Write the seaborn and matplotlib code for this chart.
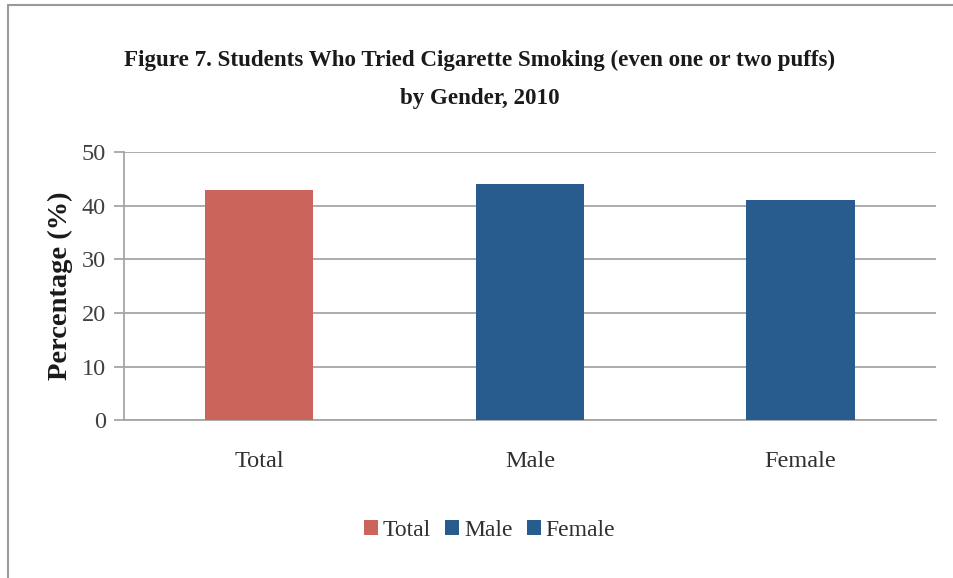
import matplotlib
matplotlib.use("Agg")
import matplotlib.pyplot as plt
from matplotlib.lines import Line2D
import seaborn as sns
import pandas as pd

categories = ["Total", "Male", "Female"]
values = [43, 44, 41]
colors = ["#CB645B", "#285C8E", "#285C8E"]
y_ticks = [0, 10, 20, 30, 40, 50]

title = "Figure 7. Students Who Tried Cigarette Smoking (even one or two puffs)\nby Gender, 2010"
y_label = "Percentage (%)"

sns.set_theme(style="white")
plt.rcParams["font.family"] = ["Liberation Serif", "DejaVu Serif"]

df = pd.DataFrame({"Group": categories, "Percent": values})

fig = plt.figure(figsize=(9.54, 5.78), dpi=100)
ax = fig.add_axes([0.130, 0.273, 0.851, 0.464])

sns.barplot(data=df, x="Group", y="Percent", hue="Group",
            palette=dict(zip(categories, colors)), order=categories,
            hue_order=categories, width=0.4, saturation=1,
            linewidth=0, legend=True, ax=ax, zorder=3)

ax.set_ylim(0, 50)
ax.set_xlim(-0.5, 2.5)
ax.set_yticks(y_ticks)
ax.set_yticklabels([str(t) for t in y_ticks], fontsize=17.5, color="#404040")
ax.tick_params(axis="x", labelsize=17.5, labelcolor="#303030", length=0, pad=22)
ax.tick_params(axis="y", length=7, width=1.3, color="#A6A6A6", pad=6, left=True)
ax.set_xlabel("")
ax.set_ylabel(y_label, fontsize=20.5, fontweight="bold", color="#1a1a1a", labelpad=6)

ax.yaxis.grid(True, color="#A6A6A6", linewidth=1.3, zorder=0)
ax.set_axisbelow(True)
for side in ["top", "right"]:
    ax.spines[side].set_visible(False)
for side in ["left", "bottom"]:
    ax.spines[side].set_color("#A6A6A6")
    ax.spines[side].set_linewidth(1.3)

fig.text(0.503, 0.862, title, ha="center", va="center", fontsize=16.6,
         fontweight="bold", color="#1a1a1a", linespacing=2.05)

handles, labels = ax.get_legend_handles_labels()
ax.legend(handles, labels, loc="center", bbox_to_anchor=(0.513, 0.083),
          bbox_transform=fig.transFigure, ncol=3, frameon=False,
          fontsize=17, handlelength=0.6, handleheight=0.6,
          handletextpad=0.2, columnspacing=0.6, labelcolor="#303030")

# thin frame lines along the top and left edges of the figure
fig.add_artist(Line2D([0.008, 1.0], [0.992, 0.992], transform=fig.transFigure,
                      color="#9a9a9a", linewidth=1.5))
fig.add_artist(Line2D([0.008, 0.008], [0.0, 0.992], transform=fig.transFigure,
                      color="#9a9a9a", linewidth=1.5))

fig.savefig("out.png", dpi=100, facecolor="white")
